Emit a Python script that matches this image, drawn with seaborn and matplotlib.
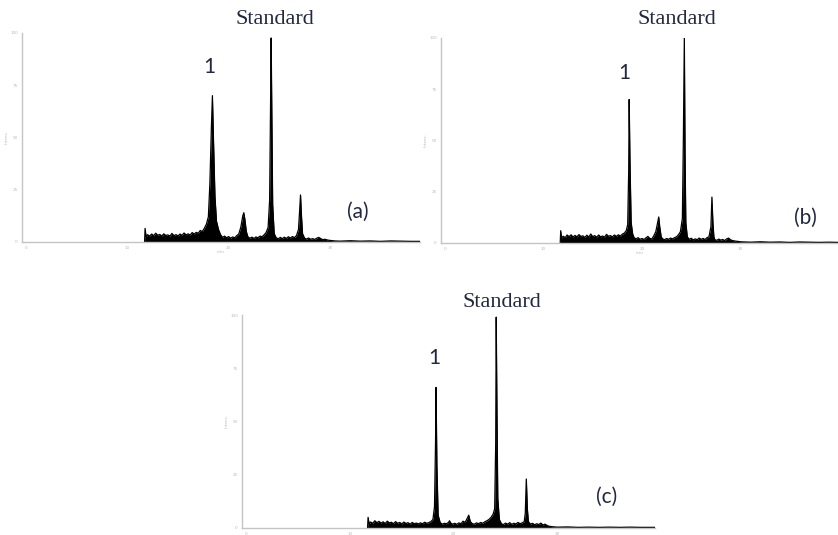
import numpy as np
import seaborn as sns
import matplotlib.pyplot as plt
from matplotlib.ticker import MultipleLocator

# Chromatogram traces (time in min, intensity in % of full scale)
A_TIME = [11.7, 11.75, 11.85, 12.0, 12.2, 12.4, 12.6, 12.8, 13.0, 13.2, 13.4, 13.6, 13.8, 14.0,
          14.2, 14.4, 14.6, 14.8, 15.0, 15.2, 15.4, 15.6, 15.8, 16.0, 16.2, 16.4, 16.6, 16.8,
          17.0, 17.2, 17.4, 17.6, 17.8, 18.0, 18.15, 18.3, 18.4, 18.5, 18.65, 18.8, 19.0, 19.2,
          19.4, 19.6, 19.8, 20.0, 20.2, 20.4, 20.6, 20.8, 21.0, 21.2, 21.4, 21.5, 21.6, 21.75,
          21.9, 22.1, 22.3, 22.5, 22.7, 22.9, 23.1, 23.3, 23.5, 23.7, 23.9, 24.05, 24.15, 24.2,
          24.27, 24.35, 24.5, 24.7, 24.9, 25.1, 25.3, 25.5, 25.7, 25.9, 26.1, 26.3, 26.5, 26.7,
          26.9, 27.0, 27.1, 27.2, 27.3, 27.5, 27.7, 27.9, 28.1, 28.3, 28.5, 28.7, 28.9, 29.1,
          29.3, 29.5, 29.8, 30.1, 30.5, 31, 32, 33, 34, 35, 36, 37, 38, 38.9]
A_SIGNAL = [0, 6.5, 2.5, 3.5, 2.8, 3.8, 3.0, 4.2, 3.2, 3.6, 2.9, 3.9, 3.1, 3.4,
            2.8, 4.1, 3.0, 3.5, 2.9, 3.8, 3.2, 4.3, 3.4, 3.9, 3.3, 4.5, 3.8, 4.6,
            4.2, 5.5, 5.0, 6.5, 8.5, 12, 28, 55, 70, 50, 22, 10, 6, 3.5,
            2.2, 2.8, 2.0, 2.6, 1.8, 2.4, 2.0, 3.0, 3.8, 7, 12.5, 14, 11, 5,
            2.5, 1.8, 2.3, 1.7, 2.4, 2.0, 2.8, 2.5, 3.4, 4.5, 7, 20, 70, 97.6,
            60, 18, 4, 2.0, 1.5, 2.2, 1.6, 2.3, 1.7, 2.5, 1.9, 2.6, 2.1, 3.0,
            6, 14, 22.5, 12, 4, 1.8, 1.4, 1.9, 1.3, 1.6, 1.2, 1.8, 2.2, 1.6,
            1.1, 1.3, 0.9, 0.7, 0.5, 0.4, 0.6, 0.4, 0.5, 0.3, 0.5, 0.4, 0.3, 0.3]

B_TIME = [11.7, 11.75, 11.85, 12.0, 12.2, 12.4, 12.6, 12.8, 13.0, 13.2, 13.4, 13.6, 13.8, 14.0,
          14.2, 14.4, 14.6, 14.8, 15.0, 15.2, 15.4, 15.6, 15.8, 16.0, 16.2, 16.4, 16.6, 16.8,
          17.0, 17.2, 17.4, 17.6, 17.8, 18.0, 18.2, 18.4, 18.55, 18.65, 18.7, 18.78, 18.9, 19.05,
          19.2, 19.4, 19.6, 19.8, 20.0, 20.2, 20.4, 20.6, 20.8, 21.0, 21.2, 21.4, 21.55, 21.7,
          21.8, 21.95, 22.1, 22.3, 22.5, 22.7, 22.9, 23.1, 23.3, 23.5, 23.7, 23.9, 24.1, 24.2,
          24.3, 24.37, 24.45, 24.6, 24.8, 25.0, 25.2, 25.4, 25.6, 25.8, 26.0, 26.2, 26.4, 26.6,
          26.8, 27.0, 27.1, 27.2, 27.3, 27.4, 27.6, 27.8, 28.0, 28.2, 28.4, 28.6, 28.8, 29.0,
          29.2, 29.4, 29.7, 30.0, 30.5, 31, 32, 33, 34, 35, 36, 37, 38, 39, 39.9]
B_SIGNAL = [0, 6.0, 2.4, 3.3, 2.6, 3.9, 3.1, 4.0, 2.9, 3.7, 3.0, 4.1, 3.2, 3.5,
            2.7, 3.8, 2.9, 4.4, 3.1, 3.6, 2.8, 3.9, 3.0, 3.4, 2.9, 4.2, 3.3, 3.6,
            3.0, 3.9, 3.2, 4.0, 3.4, 4.3, 4.8, 6.0, 9, 35, 70, 40, 10, 4.5,
            2.6, 2.0, 2.6, 1.8, 2.2, 1.7, 2.5, 3.2, 2.2, 2.0, 3.5, 5.5, 9, 12.7,
            8, 3.0, 2.0, 1.6, 2.2, 1.8, 2.4, 2.0, 2.6, 3.0, 4.0, 5.5, 12, 50,
            100, 45, 10, 3.0, 1.8, 2.3, 1.5, 2.0, 1.6, 2.4, 1.8, 2.2, 1.7, 2.6,
            3.0, 8, 22.4, 10, 3.0, 1.6, 1.3, 1.9, 1.4, 1.7, 1.2, 2.0, 2.4, 1.5,
            1.2, 1.0, 0.8, 0.6, 0.5, 0.4, 0.6, 0.4, 0.5, 0.3, 0.5, 0.4, 0.3, 0.4, 0.3]

C_TIME = [11.7, 11.75, 11.85, 12.0, 12.2, 12.4, 12.6, 12.8, 13.0, 13.2, 13.4, 13.6, 13.8, 14.0,
          14.2, 14.4, 14.6, 14.8, 15.0, 15.2, 15.4, 15.6, 15.8, 16.0, 16.2, 16.4, 16.6, 16.8,
          17.0, 17.2, 17.4, 17.6, 17.8, 18.0, 18.15, 18.25, 18.3, 18.38, 18.5, 18.7, 18.9, 19.1,
          19.3, 19.5, 19.6, 19.7, 19.9, 20.1, 20.3, 20.5, 20.7, 20.9, 21.1, 21.3, 21.45, 21.6,
          21.8, 22.0, 22.2, 22.4, 22.6, 22.8, 23.0, 23.2, 23.4, 23.6, 23.8, 23.95, 24.05, 24.1,
          24.17, 24.25, 24.4, 24.6, 24.8, 25.0, 25.2, 25.4, 25.6, 25.8, 26.0, 26.2, 26.4, 26.6,
          26.8, 26.9, 27.0, 27.1, 27.2, 27.4, 27.6, 27.8, 28.0, 28.2, 28.4, 28.6, 28.8, 29.0,
          29.2, 29.5, 30, 31, 32, 33, 34, 35, 36, 37, 38, 39.4]
C_SIGNAL = [0, 5.0, 2.0, 2.8, 2.2, 3.4, 2.5, 3.1, 2.3, 2.9, 2.1, 3.2, 2.4, 2.7,
            2.0, 3.0, 2.2, 2.6, 1.9, 2.8, 2.1, 2.5, 1.8, 2.6, 2.0, 2.3, 1.9, 2.4,
            2.0, 2.7, 2.2, 2.5, 3.0, 4.0, 10, 40, 66, 30, 6, 2.5, 1.8, 2.2,
            2.0, 2.6, 3.4, 2.4, 1.8, 2.2, 1.7, 2.4, 2.0, 3.2, 2.6, 4.5, 6.0, 3.0,
            2.0, 1.8, 2.4, 2.0, 2.6, 2.2, 2.9, 3.4, 4.0, 5.0, 6.5, 9, 40, 99,
            55, 14, 4, 2.0, 1.6, 2.3, 1.8, 2.5, 1.7, 2.2, 1.9, 2.6, 2.0, 2.4,
            3.0, 7, 23, 9, 3.0, 1.8, 2.2, 1.5, 2.0, 1.6, 2.3, 1.4, 1.8, 1.2,
            0.8, 0.6, 0.4, 0.5, 0.3, 0.4, 0.3, 0.4, 0.3, 0.4, 0.3, 0.3]

PANEL_TAGS = ['(a)', '(b)', '(c)']
PEAK_LABEL = '1'
STD_LABEL = 'Standard'
X_TICKS = [0, 10, 20, 30]
Y_TICKS = [0, 25, 50, 75, 100]

AXIS_GREY = '#c4c4c4'
LABEL_COLOR = '#24283f'


def draw_trace(ax, times, signal, xmax, tag, std_xy, peak_xy, tag_xy, xlabel=True):
    sns.lineplot(x=times, y=signal, ax=ax, color='black', lw=0.9, estimator=None, sort=False)
    ax.fill_between(times, 0, signal, color='black', lw=0)
    ax.set_xlim(-0.4, xmax)
    ax.set_ylim(0, 100)
    sns.despine(ax=ax)
    for side in ['left', 'bottom']:
        ax.spines[side].set_color(AXIS_GREY)
        ax.spines[side].set_linewidth(1.0)
    ax.set_xticks(X_TICKS)
    ax.set_yticks(Y_TICKS)
    ax.xaxis.set_minor_locator(MultipleLocator(2))
    ax.tick_params(axis='both', which='both', colors=AXIS_GREY, labelcolor='#bbbbbb',
                   labelsize=3, length=2, width=0.8, pad=1)
    if xlabel:
        ax.set_xlabel('min', fontsize=3, color='#bbbbbb', labelpad=0)
    ax.set_ylabel('Intens.', fontsize=3, color='#bbbbbb', labelpad=1)
    ax.patch.set_alpha(0)

    ax.text(std_xy[0], std_xy[1], STD_LABEL, transform=ax.get_xaxis_transform(),
            ha='center', va='center', fontsize=16, family='Liberation Serif', color=LABEL_COLOR)
    ax.text(peak_xy[0], peak_xy[1], PEAK_LABEL, ha='center', va='center', fontsize=15,
            family='Lato', color=LABEL_COLOR)
    ax.text(tag_xy[0], tag_xy[1], tag, ha='center', va='center', fontsize=15,
            family='Lato', color=LABEL_COLOR)


def main():
    sns.set_style('white')
    fig = plt.figure(figsize=(8.38, 5.35), dpi=100)

    ax_a = fig.add_axes([0.0263, 0.5477, 0.4749, 0.3907])
    ax_b = fig.add_axes([0.5263, 0.5458, 0.4737, 0.3832])
    ax_c = fig.add_axes([0.2888, 0.0131, 0.4928, 0.3981])

    draw_trace(ax_a, A_TIME, A_SIGNAL, 38.9, PANEL_TAGS[0], (24.6, 1.062), (18.1, 83.7), (32.8, 14.4))
    draw_trace(ax_b, B_TIME, B_SIGNAL, 39.9, PANEL_TAGS[1], (23.5, 1.088), (18.2, 83.0), (36.6, 12.2))
    draw_trace(ax_c, C_TIME, C_SIGNAL, 39.4, PANEL_TAGS[2], (24.6, 1.061), (18.1, 79.8), (34.7, 14.6),
               xlabel=False)

    fig.savefig('out.png', dpi=100)


if __name__ == '__main__':
    main()
